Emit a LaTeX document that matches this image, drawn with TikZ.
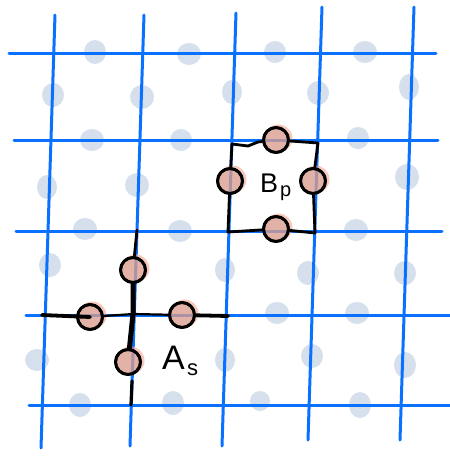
\documentclass[tikz,border=0pt]{standalone}
\usepackage{fontspec}
\setmainfont{Liberation Sans}
\definecolor{gridblue}{RGB}{10,112,255}
\definecolor{blobblue}{RGB}{213,224,236}
\definecolor{halo}{RGB}{240,165,140}
\definecolor{qfill}{RGB}{200,150,140}
\definecolor{ink}{RGB}{0,0,0}
\begin{document}
\begin{tikzpicture}[x=1pt,y=-1pt,
  gridline/.style={line width=3pt, draw=gridblue, line cap=round},
  blob/.style={fill=blobblue},
  qubit/.style={circle, draw=ink, line width=2.8pt, fill=qfill, fill opacity=0.45, draw opacity=1, minimum size=25pt, inner sep=0pt},
  inkline/.style={draw=ink, line width=2.8pt, line cap=round, line join=round},
  lab/.style={inner sep=0pt, text=ink}]
\useasboundingbox (0,0) rectangle (450,456);
% blobs
\foreach \x/\y/\a/\b in {95/52/11/12, 189/54/12/11, 275/52/11/11, 365/52/12/11,
  53/95/11/12, 142/97/12/12, 232/92/10/12, 318/93/11/12, 409/87/10/13,
  92/140/12/11, 181/140/11/11, 358/138/11/11,
  47/187/10/12, 137/185/12/12, 407/177/12/13,
  85/229/12/11, 180/231/12/11, 356/230/12/11,
  50/265/11/12, 225/270/10/12, 308/273/11/12, 405/273/11/12,
  277/313/12/11, 357/313/12/11,
  37/360/12/11, 225/360/10/12, 312/356/11/12, 405/365/11/13,
  80/405/11/12, 173/403/11/12, 260/401/10/10, 360/405/11/13}
  \fill[blob] (\x,\y) ellipse ({\a} and {\b});
% grid
\foreach \xa/\ya/\xb/\yb in {9/53/436/53, 14/140/438/140, 16/231/442/231, 26/315/450/315, 29/405/450/405,
  55/15/41/448, 144/15/130/446, 236/13/222/446, 322/7/308/440, 414/7/400/440}
  \draw[gridline] (\xa,\ya) -- (\xb,\yb);
% halos
\foreach \x/\y in {133/270, 90/317, 182/315, 128/362, 276/140, 230/181, 313/181, 276/229}
  \fill[halo, fill opacity=0.6] (\x+2.5,\y-1.5) circle (14);
% qubit nodes
\node[qubit] (at) at (133,270) {};
\node[qubit] (al) at (90,317) {};
\node[qubit] (ar) at (182,315) {};
\node[qubit] (ab) at (128,362) {};
\node[qubit] (bt) at (276,140) {};
\node[qubit] (bl) at (230,181) {};
\node[qubit] (br) at (313,181) {};
\node[qubit] (bb) at (276,229) {};
% star A_s
\coordinate (aL) at (42,315);
\coordinate (aR) at (228,316);
\coordinate (aT) at (137,230);
\coordinate (aB1) at (132,381);
\coordinate (aB) at (131,405);
\coordinate (ac) at (133,314);
\draw[inkline, line width=3.8pt] (aL) -- (al.center);
\draw[inkline, line width=2.2pt] (al) -- (ac) -- (ar);
\draw[inkline, line width=3.8pt] (ar) -- (aR);
\draw[inkline] (aT) -- (at);
\draw[inkline, line width=5pt] (at) -- (ac) -- (ab);
\draw[inkline, line width=3.2pt] (aB1) -- (aB);
% plaquette B_p
\coordinate (pTL) at (232,144);
\coordinate (pTR) at (318,143);
\coordinate (pBR) at (315,233);
\coordinate (pBL) at (228,232);
\draw[inkline] (pTL) -- (248,146) -- (258,142) -- (bt);
\draw[inkline] (bt) -- (pTR) -- (br);
\draw[inkline] (br) -- (pBR) -- (bb);
\draw[inkline] (bb) -- (pBL) -- (bl);
\draw[inkline] (bl) -- (pTL);
% redraw qubit outlines on top
\foreach \n in {at,al,ar,ab,bt,bl,br,bb}
  \draw[ink, line width=2.8pt] (\n) circle (12.5);
% labels
\node[lab, anchor=south west, font=\fontsize{34}{34}\selectfont] (A) at (162,370) {A};
\node[lab, anchor=south west, font=\fontsize{22}{22}\selectfont] (s) at (187,376) {s};
\node[lab, anchor=south west, font=\fontsize{27}{27}\selectfont] (B) at (260,193) {B};
\node[lab, anchor=south west, font=\fontsize{20}{20}\selectfont] (p) at (280,201) {p};
\end{tikzpicture}
\end{document}
